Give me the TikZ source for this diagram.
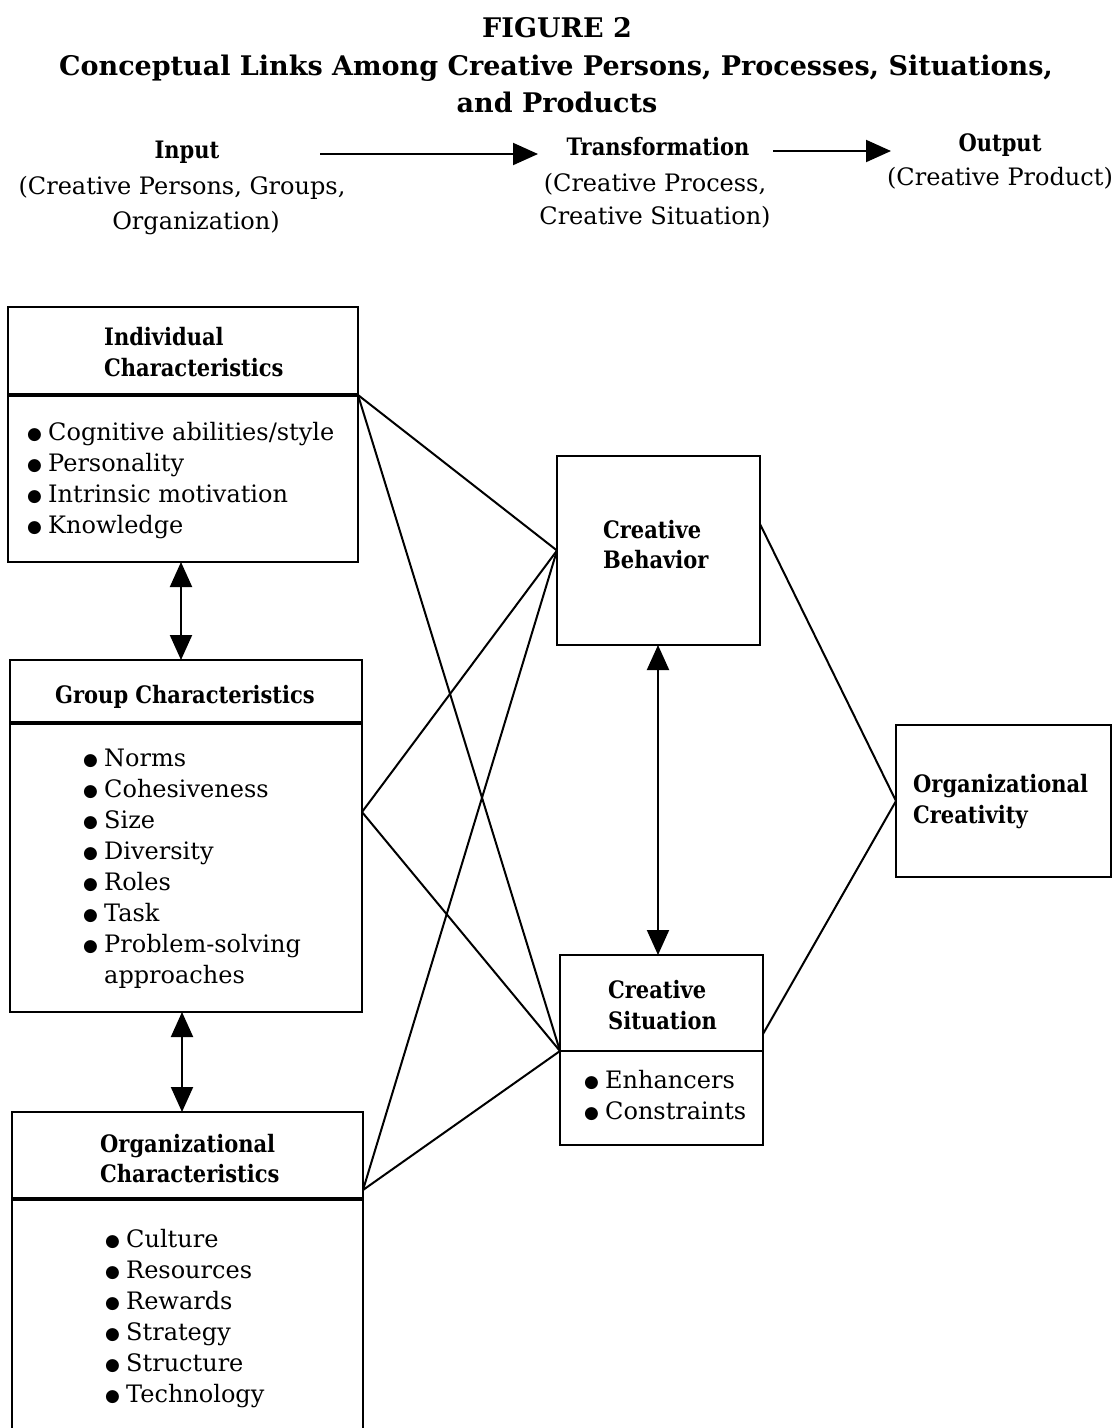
\documentclass[tikz,border=0pt]{standalone}
\usepackage{fontspec}
\setmainfont{DejaVu Serif}
\newfontfamily\hdf{DejaVu Serif}[FakeStretch=0.875]
\newfontfamily\symf{DejaVu Sans}
\usetikzlibrary{arrows.meta,calc}
\newcommand{\bul}{\makebox[21pt][l]{\raisebox{0.5pt}{\symf\fontsize{17}{17}\selectfont ●}}}
\begin{document}
\begin{tikzpicture}[x=1pt,y=-1pt,
  frame/.style={draw,line width=2pt,inner sep=0pt,outer sep=0pt,anchor=north west},
  divider/.style={line width=3.8pt},
  conn/.style={line width=2pt},
  dbl/.style={line width=2pt,{Triangle[length=25pt,width=22pt]}-{Triangle[length=25pt,width=22pt]}},
  sgl/.style={line width=2pt,-{Triangle[length=25pt,width=22pt]}},
  hd/.style={font=\hdf\fontsize{24}{31}\selectfont\bfseries,inner sep=0pt,anchor=base west},
  hdc/.style={font=\hdf\fontsize{24}{31}\selectfont\bfseries,inner sep=0pt,anchor=base},
  tt/.style={font=\fontsize{27}{31}\selectfont\bfseries,inner sep=0pt,anchor=base},
  it/.style={font=\fontsize{24}{31}\selectfont,inner sep=0pt,anchor=base west},
  itc/.style={font=\fontsize{24}{31}\selectfont,inner sep=0pt,anchor=base},
]
\clip (0,0) rectangle (1112,1428);
% title
\node[tt] (t1) at (557,37) {FIGURE 2};
\node[tt] (t2) at (556,75) {Conceptual Links Among Creative Persons, Processes, Situations,};
\node[tt] (t3) at (557,112) {and Products};
% top row
\node[hdc] (inp) at (187,158) {Input};
\node[itc] (inp2) at (182,194) {(Creative Persons, Groups,};
\node[itc] (inp3) at (196,229) {Organization)};
\node[hdc] (trf) at (658,155) {Transformation};
\node[itc] (trf2) at (655,191) {(Creative Process,};
\node[itc] (trf3) at (655,224) {Creative Situation)};
\node[hdc] (out) at (1000,151) {Output};
\node[itc] (out2) at (1000,185) {(Creative Product)};
\coordinate (a1s) at (320,154);
\coordinate (a1e) at (538,154);
\coordinate (a2s) at (773,151);
\coordinate (a2e) at (891,151);
\draw[sgl] (a1s) -- (a1e);
\draw[sgl] (a2s) -- (a2e);
% individual
\node[frame,minimum width=350pt,minimum height=88pt] (indh) at (8,307) {};
\node[frame,minimum width=350pt,minimum height=167pt] (indb) at (8,395) {};
\draw[divider] (indh.south west) -- (indh.south east);
\node[hd] (ind1) at (104,345) {Individual};
\node[hd] (ind2) at (104,376) {Characteristics};
\foreach \t [count=\i] in {Cognitive abilities/style,Personality,Intrinsic motivation,Knowledge}
  \node[it] (indi\i) at (27,{440+31*(\i-1)}) {\bul\t};
% group
\node[frame,minimum width=352pt,minimum height=63pt] (grph) at (10,660) {};
\node[frame,minimum width=352pt,minimum height=289pt] (grpb) at (10,723) {};
\draw[divider] (grph.south west) -- (grph.south east);
\node[hdc] (grp1) at (185,703) {Group Characteristics};
\foreach \t [count=\i] in {Norms,Cohesiveness,Size,Diversity,Roles,Task,Problem-solving}
  \node[it] (grpi\i) at (83,{766+31*(\i-1)}) {\bul\t};
\node[it] (grpi8) at (83,983) {\hphantom{\bul}approaches};
% organizational
\node[frame,minimum width=351pt,minimum height=87pt] (orgh) at (12,1112) {};
\node[frame,minimum width=351pt,minimum height=260pt] (orgb) at (12,1199) {};
\draw[divider] (orgh.south west) -- (orgh.south east);
\node[hd] (org1) at (100,1152) {Organizational};
\node[hd] (org2) at (100,1182) {Characteristics};
\foreach \t [count=\i] in {Culture,Resources,Rewards,Strategy,Structure,Technology}
  \node[it] (orgi\i) at (105,{1247+31*(\i-1)}) {\bul\t};
% creative behavior
\node[frame,minimum width=203pt,minimum height=189pt] (cb) at (557,456) {};
\node[hd] (cb1) at (603,538) {Creative};
\node[hd] (cb2) at (603,568) {Behavior};
% creative situation
\node[frame,minimum width=203pt,minimum height=96pt] (csh) at (560,955) {};
\node[frame,minimum width=203pt,minimum height=94pt] (csb) at (560,1051) {};
\node[hd] (cs1) at (608,998) {Creative};
\node[hd] (cs2) at (608,1029) {Situation};
\node[it] (csi1) at (584,1088) {\bul Enhancers};
\node[it] (csi2) at (584,1119) {\bul Constraints};
% organizational creativity
\node[frame,minimum width=215pt,minimum height=152pt] (oc) at (896,725) {};
\node[hd] (oc1) at (913,792) {Organizational};
\node[hd] (oc2) at (913,823) {Creativity};
% connection points
\coordinate (grpR) at (362,812);
\coordinate (orgR) at (363,1190);
\coordinate (cbR) at (760,524);
\coordinate (csR) at (763,1034);
\coordinate (ax1) at (181,0);
\coordinate (ax2) at (182,0);
\coordinate (ax3) at (658,0);
% connectors
\draw[conn] (indh.south east) -- (cb.west);
\draw[conn] (indh.south east) -- (csh.south west);
\draw[conn] (grpR) -- (cb.west);
\draw[conn] (grpR) -- (csh.south west);
\draw[conn] (orgR) -- (cb.west);
\draw[conn] (orgR) -- (csh.south west);
\draw[conn] (cbR) -- (oc.west);
\draw[conn] (csR) -- (oc.west);
\draw[dbl] (indb.south -| ax1) -- (grph.north -| ax1);
\draw[dbl] (grpb.south -| ax2) -- (orgh.north -| ax2);
\draw[dbl] (cb.south -| ax3) -- (csh.north -| ax3);
\end{tikzpicture}
\end{document}
